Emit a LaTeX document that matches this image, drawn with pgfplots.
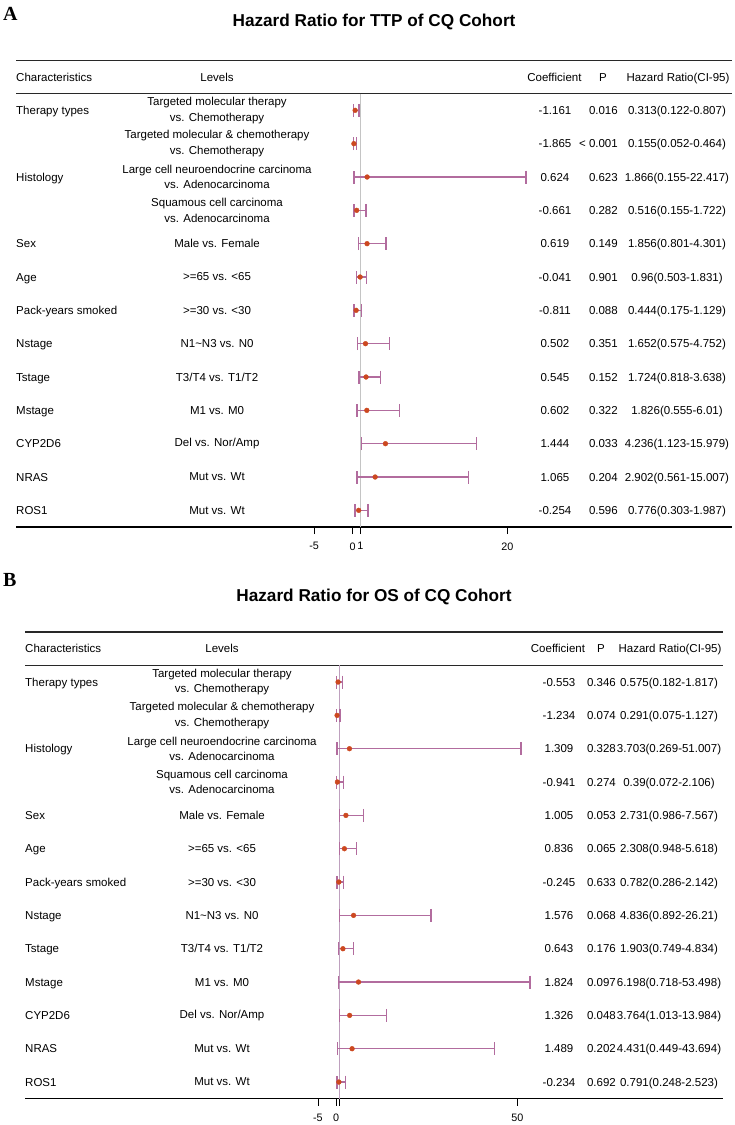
\documentclass[border=0pt]{standalone}
\usepackage{pgfplots}
\usepackage{pgfplotstable}
\pgfplotsset{compat=1.18}
\usepackage{fontspec}
\setmainfont{Liberation Sans}
\newfontfamily\labelfont{Liberation Serif}
\definecolor{whisk}{RGB}{178,108,158}
\definecolor{dotc}{RGB}{204,72,32}
\definecolor{refA}{RGB}{196,196,196}
\definecolor{refB}{RGB}{190,160,190}
\definecolor{rulec}{RGB}{40,40,40}

\newcommand{\tf}{\fontsize{11.5}{15.5}\selectfont}
% y, characteristic, level, coefficient, p, hr
\newcommand{\trow}[6]{%
 \node[anchor=base west,inner sep=0pt,yshift=-4pt,font=\tf] at (axis cs:\colC,#1) {#2};
 \node[anchor=center,align=center,inner sep=0pt,font=\tf] at (axis cs:\colL,#1) {#3};
 \node[anchor=base,inner sep=0pt,yshift=-4pt,font=\tf] at (axis cs:\colK,#1) {#4};
 \node[anchor=base east,inner sep=0pt,yshift=-4pt,font=\tf] at (axis cs:\colP,#1) {#5};
 \node[anchor=base,inner sep=0pt,yshift=-4pt,font=\tf] at (axis cs:\colH,#1) {#6};
}

\pgfplotstableread{
hr y lo hi
0.313 -1 0.122 0.807
0.155 -2 0.052 0.464
1.866 -3 0.155 22.417
0.516 -4 0.155 1.722
1.856 -5 0.801 4.301
0.96 -6 0.503 1.831
0.444 -7 0.175 1.129
1.652 -8 0.575 4.752
1.724 -9 0.818 3.638
1.826 -10 0.555 6.01
4.236 -11 1.123 15.979
2.902 -12 0.561 15.007
0.776 -13 0.303 1.987
}\dataA

\pgfplotstableread{
hr y lo hi
0.575 -1 0.182 1.817
0.291 -2 0.075 1.127
3.703 -3 0.269 51.007
0.39 -4 0.072 2.106
2.731 -5 0.986 7.567
2.308 -6 0.948 5.618
0.782 -7 0.286 2.142
4.836 -8 0.892 26.21
1.903 -9 0.749 4.834
6.198 -10 0.718 53.498
3.764 -11 1.013 13.984
4.431 -12 0.449 43.694
0.791 -13 0.248 2.523
}\dataB

\pgfplotsset{
  forest/.style={
    scale only axis, height=466.67pt, clip=false,
    ymin=-13.5, ymax=0.5,
    axis x line=bottom, axis y line=none,
    x axis line style={-, black, line width=1.3pt},
    ytick=\empty,
    tick align=outside, major tick length=7pt,
    xtick style={black, line width=0.6pt},
    /pgf/number format/assume math mode=true,
    xticklabel style={font=\fontsize{10.8}{12}\selectfont, yshift=-5pt},
  },
  ebars/.style={
    only marks, mark=*, mark size=2.4pt, color=dotc,
    error bars/.cd, x dir=both, x explicit,
    error mark=|,
    error bar style={color=whisk, line width=1.35pt},
    error mark options={color=whisk, mark size=6.5pt, line width=1.2pt},
  },
}

\begin{document}
\begin{tikzpicture}
\useasboundingbox (0pt,0pt) rectangle (735pt,-1125pt);

% ---------------- Panel A ----------------
\def\colC{-43.56}\def\colL{-17.55}\def\colK{26.17}\def\colP{34.32}\def\colH{41.95}
\begin{axis}[forest, width=716pt, at={(16pt,-527pt)}, anchor=south west,
  xmin=-43.56, xmax=49.07,
  xtick={-5,0,1,20}, xticklabels={-5,0,1,20}]
  \draw[rulec, line width=1.3pt] (rel axis cs:0,1) -- (rel axis cs:1,1);
  \draw[rulec, line width=1.1pt] (rel axis cs:0,0.928571) -- (rel axis cs:1,0.928571);
  \addplot[refA, line width=1.6pt] coordinates {(1,-0.5) (1,-13.5)};
  \addplot[ebars] table[x=hr, y=y,
     x error plus expr=\thisrow{hi}-\thisrow{hr},
     x error minus expr=\thisrow{hr}-\thisrow{lo}] {\dataA};
  \node[anchor=base west,inner sep=0pt,yshift=-4pt,font=\tf] at (axis cs:\colC,0) {Characteristics};
  \node[anchor=base,inner sep=0pt,yshift=-4pt,font=\tf] at (axis cs:\colL,0) {Levels};
  \node[anchor=base,inner sep=0pt,yshift=-4pt,font=\tf] at (axis cs:26.1,0) {Coefficient};
  \node[anchor=base,inner sep=0pt,yshift=-4pt,font=\tf] at (axis cs:32.38,0) {P};
  \node[anchor=base,inner sep=0pt,yshift=-4pt,font=\tf] at (axis cs:42.08,0) {Hazard Ratio(CI-95)};
  \trow{-1}{Therapy types}{Targeted molecular therapy\\vs. Chemotherapy}{-1.161}{0.016}{0.313(0.122-0.807)}
  \trow{-2}{}{Targeted molecular \& chemotherapy\\vs. Chemotherapy}{-1.865}{< 0.001}{0.155(0.052-0.464)}
  \trow{-3}{Histology}{Large cell neuroendocrine carcinoma\\vs. Adenocarcinoma}{0.624}{0.623}{1.866(0.155-22.417)}
  \trow{-4}{}{Squamous cell carcinoma\\vs. Adenocarcinoma}{-0.661}{0.282}{0.516(0.155-1.722)}
  \trow{-5}{Sex}{Male vs. Female}{0.619}{0.149}{1.856(0.801-4.301)}
  \trow{-6}{Age}{>=65 vs. <65}{-0.041}{0.901}{0.96(0.503-1.831)}
  \trow{-7}{Pack-years smoked}{>=30 vs. <30}{-0.811}{0.088}{0.444(0.175-1.129)}
  \trow{-8}{Nstage}{N1\textasciitilde N3 vs. N0}{0.502}{0.351}{1.652(0.575-4.752)}
  \trow{-9}{Tstage}{T3/T4 vs. T1/T2}{0.545}{0.152}{1.724(0.818-3.638)}
  \trow{-10}{Mstage}{M1 vs. M0}{0.602}{0.322}{1.826(0.555-6.01)}
  \trow{-11}{CYP2D6}{Del vs. Nor/Amp}{1.444}{0.033}{4.236(1.123-15.979)}
  \trow{-12}{NRAS}{Mut vs. Wt}{1.065}{0.204}{2.902(0.561-15.007)}
  \trow{-13}{ROS1}{Mut vs. Wt}{-0.254}{0.596}{0.776(0.303-1.987)}
\end{axis}

% ---------------- Panel B ----------------
\def\colC{-85.75}\def\colL{-31.43}\def\colK{61.48}\def\colP{77.2}\def\colH{91.81}
\begin{axis}[forest, width=698pt, at={(25pt,-1098.7pt)}, anchor=south west,
  xmin=-85.75, xmax=106.7,
  xtick={-5,0,1,50}, xticklabels={-5,0,,50}]
  \draw[rulec, line width=1.3pt] (rel axis cs:0,1) -- (rel axis cs:1,1);
  \draw[rulec, line width=1.1pt] (rel axis cs:0,0.928571) -- (rel axis cs:1,0.928571);
  \addplot[refB, line width=1.1pt] coordinates {(1,-0.5) (1,-13.5)};
  \addplot[ebars] table[x=hr, y=y,
     x error plus expr=\thisrow{hi}-\thisrow{hr},
     x error minus expr=\thisrow{hr}-\thisrow{lo}] {\dataB};
  \node[anchor=base west,inner sep=0pt,yshift=-4pt,font=\tf] at (axis cs:\colC,0) {Characteristics};
  \node[anchor=base,inner sep=0pt,yshift=-4pt,font=\tf] at (axis cs:\colL,0) {Levels};
  \node[anchor=base,inner sep=0pt,yshift=-4pt,font=\tf] at (axis cs:61.2,0) {Coefficient};
  \node[anchor=base,inner sep=0pt,yshift=-4pt,font=\tf] at (axis cs:73.06,0) {P};
  \node[anchor=base,inner sep=0pt,yshift=-4pt,font=\tf] at (axis cs:92.09,0) {Hazard Ratio(CI-95)};
  \trow{-1}{Therapy types}{Targeted molecular therapy\\vs. Chemotherapy}{-0.553}{0.346}{0.575(0.182-1.817)}
  \trow{-2}{}{Targeted molecular \& chemotherapy\\vs. Chemotherapy}{-1.234}{0.074}{0.291(0.075-1.127)}
  \trow{-3}{Histology}{Large cell neuroendocrine carcinoma\\vs. Adenocarcinoma}{1.309}{0.328}{3.703(0.269-51.007)}
  \trow{-4}{}{Squamous cell carcinoma\\vs. Adenocarcinoma}{-0.941}{0.274}{0.39(0.072-2.106)}
  \trow{-5}{Sex}{Male vs. Female}{1.005}{0.053}{2.731(0.986-7.567)}
  \trow{-6}{Age}{>=65 vs. <65}{0.836}{0.065}{2.308(0.948-5.618)}
  \trow{-7}{Pack-years smoked}{>=30 vs. <30}{-0.245}{0.633}{0.782(0.286-2.142)}
  \trow{-8}{Nstage}{N1\textasciitilde N3 vs. N0}{1.576}{0.068}{4.836(0.892-26.21)}
  \trow{-9}{Tstage}{T3/T4 vs. T1/T2}{0.643}{0.176}{1.903(0.749-4.834)}
  \trow{-10}{Mstage}{M1 vs. M0}{1.824}{0.097}{6.198(0.718-53.498)}
  \trow{-11}{CYP2D6}{Del vs. Nor/Amp}{1.326}{0.048}{3.764(1.013-13.984)}
  \trow{-12}{NRAS}{Mut vs. Wt}{1.489}{0.202}{4.431(0.449-43.694)}
  \trow{-13}{ROS1}{Mut vs. Wt}{-0.234}{0.692}{0.791(0.248-2.523)}
\end{axis}

% titles and panel letters
\node[font=\bfseries\fontsize{17.2}{20}\selectfont] at (374pt,-22pt) {Hazard Ratio for TTP of CQ Cohort};
\node[font=\bfseries\fontsize{17.2}{20}\selectfont] at (374pt,-597pt) {Hazard Ratio for OS of CQ Cohort};
\node[anchor=west,inner sep=0pt,font=\labelfont\bfseries\fontsize{20}{22}\selectfont] at (3pt,-14pt) {A};
\node[anchor=west,inner sep=0pt,font=\labelfont\bfseries\fontsize{20}{22}\selectfont] at (3pt,-580pt) {B};
\end{tikzpicture}
\end{document}
